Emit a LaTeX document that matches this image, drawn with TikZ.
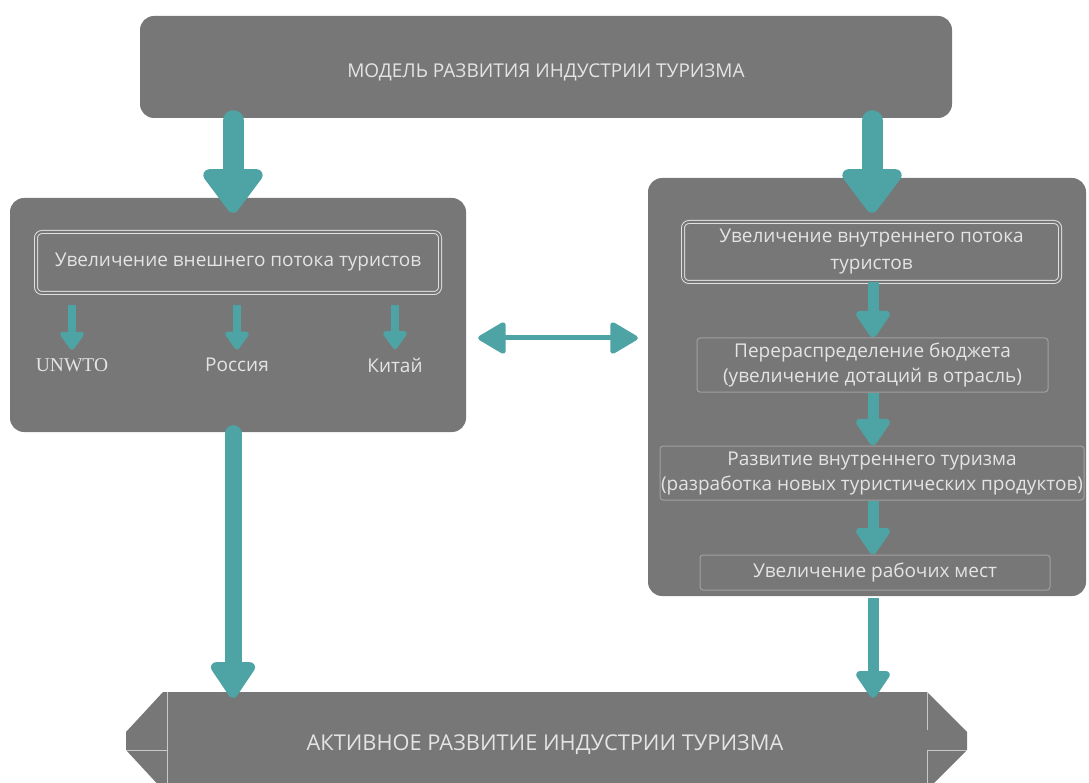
\documentclass[tikz,border=0pt]{standalone}
\usepackage{fontspec}
\setmainfont{Open Sans}
\newfontfamily\unfont{Liberation Serif}
\usepackage{tikz}
\usetikzlibrary{shapes,arrows.meta,positioning}
\usetikzlibrary{calc}
\definecolor{boxgray}{RGB}{119,119,119}
\definecolor{flowteal}{RGB}{78,163,165}
\definecolor{txtgray}{RGB}{228,228,228}
\definecolor{rimgray}{RGB}{160,160,160}

\begin{document}
\begin{tikzpicture}
  [
    x=1pt, y=-1pt,
    Panel/.style={rectangle, rounded corners=14pt, fill=boxgray, draw=none, inner sep=0pt},
    Inner/.style={rectangle, rounded corners=6pt, draw=white!88!black, line width=1pt,
      double=boxgray, double distance=2pt, text=txtgray, align=center, inner sep=0pt,
      font=\fontsize{19}{27}\selectfont},
    Step/.style={rectangle, rounded corners=3pt, draw=rimgray, line width=1pt,
      text=txtgray, align=center, inner sep=0pt, font=\fontsize{19}{25}\selectfont},
    Head/.style={text=txtgray, font=\fontsize{19}{22}\selectfont},
    Country/.style={text=txtgray, font=\fontsize{19}{22}\selectfont},
    Big/.style={draw=flowteal, line width=21pt, line cap=round,
      -{Triangle[width=68pt, length=48pt, round]}},
    Mid/.style={draw=flowteal, line width=17pt, line cap=round,
      -{Triangle[width=50pt, length=40pt, round]}},
    Thin/.style={draw=flowteal, line width=11pt,
      -{Triangle[width=38pt, length=30pt, round]}},
    Small/.style={draw=flowteal, line width=8pt,
      -{Triangle[width=27pt, length=20pt, round]}},
    Both/.style={draw=flowteal, line width=5pt,
      {Triangle[width=34pt, length=30pt, round]}-{Triangle[width=34pt, length=30pt, round]}}
  ]
  \useasboundingbox (0,0) rectangle (1089,783);
  \clip (0,0) rectangle (1089,783);
  % Panels
  \node[Panel, minimum width=812pt, minimum height=102pt, Head, text height=25pt, text depth=3pt]
    (model) at (546, 67) {МОДЕЛЬ РАЗВИТИЯ ИНДУСТРИИ ТУРИЗМА};
  \node[Panel, minimum width=456pt, minimum height=234pt] (outer) at (238, 315) {};
  \node[Panel, minimum width=438pt, minimum height=418pt] (inner) at (867, 387) {};
  % Bottom banner
  \fill[boxgray] (163,692) -- (927,692) -- (967,732) -- (967,750) -- (927,790)
    -- (163,790) -- (126,750) -- (126,732) -- cycle;
  \draw[white!60!boxgray, line width=1pt] (167,692) -- (167,790) (126,750) -- (167,750)
    (927,692) -- (927,730) (927,750) -- (927,790) (927,750) -- (967,750);
  \node[Head, font=\fontsize{21.8}{24}\selectfont, text height=25.5pt, text depth=4pt,
    minimum width=764pt, minimum height=96pt]
    (active) at (545, 740) {АКТИВНОЕ РАЗВИТИЕ ИНДУСТРИИ ТУРИЗМА};
  % Left panel
  \node[Inner, minimum width=404pt, minimum height=61pt] (extflow) at (238, 262.5)
    {Увеличение внешнего потока туристов};
  \node[Country, font=\unfont\fontsize{19.5}{22}\selectfont] (unwto) at (72, 365) {UNWTO};
  \node[Country] (russia) at (237, 365) {Россия};
  \node[Country] (china) at (395, 365) {Китай};
  % Right panel
  \node[Inner, minimum width=377pt, minimum height=60pt] (intflow) at (871.5, 252)
    {Увеличение внутреннего потока\\туристов};
  \node[Step, minimum width=351pt, minimum height=54pt] (budget) at (872.5, 365)
    {Перераспределение бюджета\\(увеличение дотаций в отрасль)};
  \node[Step, minimum width=424pt, minimum height=54pt] (domestic) at (872, 473)
    {Развитие внутреннего туризма\\(разработка новых туристических продуктов)};
  \node[Step, minimum width=350pt, minimum height=35pt] (jobs) at (875, 572.5)
    {Увеличение рабочих мест};
  % Lines
  \draw[Big] ([xshift=-313pt, yshift=-2.5pt]model.south) -- ([xshift=-5pt, yshift=-15pt]outer.north);
  \draw[Big] ([xshift=326pt, yshift=-2.5pt]model.south) -- ([xshift=5pt, yshift=-35pt]inner.north);
  \draw[Small] ([yshift=-12pt]extflow.south -| unwto) -- ([yshift=5pt]unwto.north);
  \draw[Small] ([yshift=-12pt]extflow.south -| russia) -- ([yshift=5pt]russia.north);
  \draw[Small] ([yshift=-12pt]extflow.south -| china) -- ([yshift=5pt]china.north);
  \draw[Both] ([xshift=12pt, yshift=-23pt]outer.east) -- ([xshift=-10pt, yshift=49pt]inner.west);
  \draw[Thin] ([xshift=1.5pt]intflow.south) -- ([xshift=0.5pt]budget.north);
  \draw[Thin] ([xshift=0.5pt]budget.south) -- ([xshift=1pt]domestic.north);
  \draw[Thin] ([xshift=1pt]domestic.south) -- ([xshift=-2pt]jobs.north);
  \draw[Mid] ([xshift=-5pt, yshift=-1.5pt]outer.south) -- ([xshift=-312pt, yshift=-6pt]active.north);
  \draw[Thin] ([xshift=6pt, yshift=-2pt]inner.south) -- ([xshift=328pt, yshift=-6pt]active.north);
\end{tikzpicture}
\end{document}
